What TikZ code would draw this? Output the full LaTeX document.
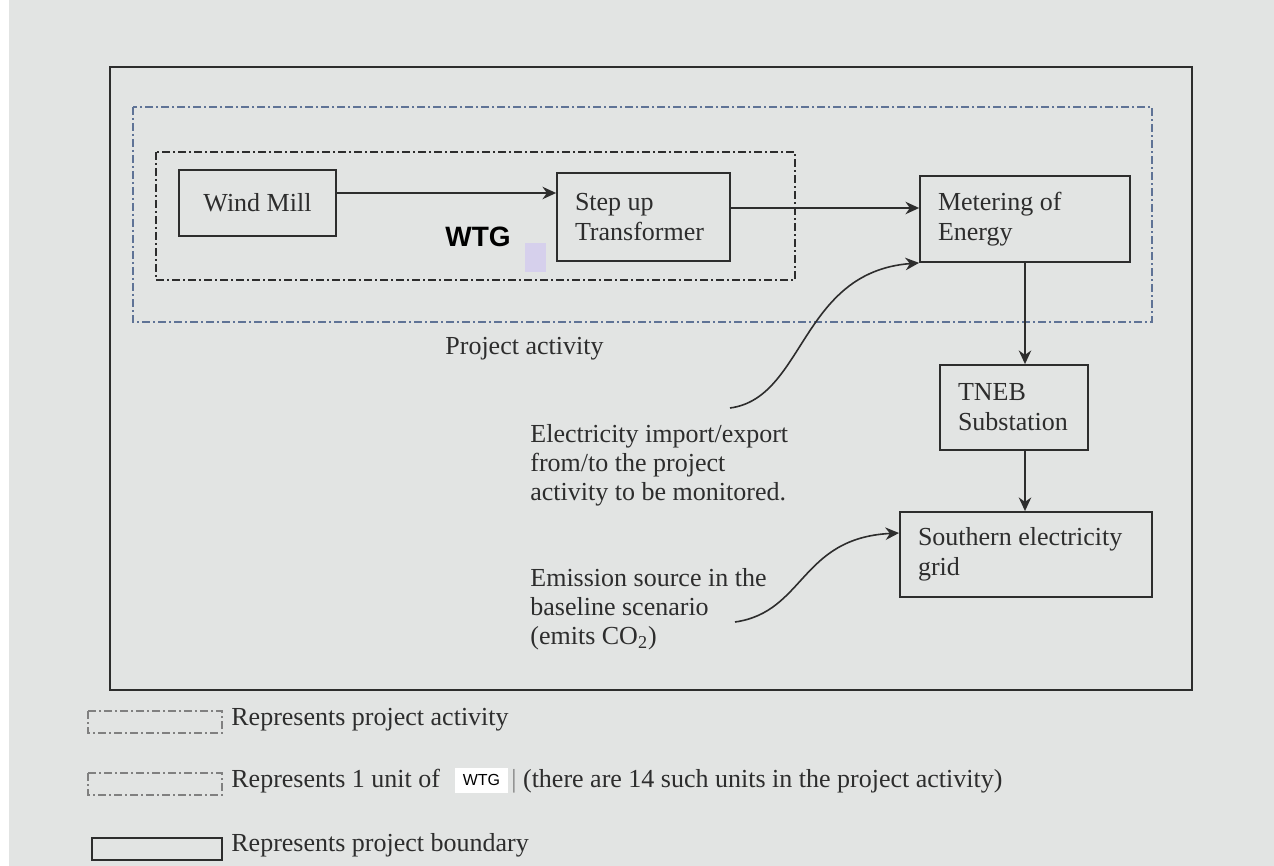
\documentclass[tikz,border=0pt]{standalone}
\usepackage{fontspec}
\setmainfont{Liberation Serif}
\newfontfamily\wtgfont{Liberation Sans}
\usepackage{xcolor}
\definecolor{paper}{RGB}{226,228,227}
\definecolor{ink}{RGB}{45,45,45}
\definecolor{actblue}{RGB}{95,115,150}
\definecolor{patch}{RGB}{214,208,236}
\usetikzlibrary{arrows.meta,positioning,calc}
\tikzset{
  unit/.style={draw=ink,line width=0.9pt,font=\fontsize{13}{15}\selectfont,%
    align=flush left,inner ysep=3pt,text=ink},
  note/.style={font=\fontsize{13}{14.5}\selectfont,align=left,text=ink,inner sep=0pt},
  flow/.style={-{Stealth[length=2.4mm,width=2.2mm]},line width=0.8pt,draw=ink},
  dashdot/.style={line width=0.7pt,dash pattern=on 4pt off 1.5pt on 1pt off 1.5pt},
}

\begin{document}
\begin{tikzpicture}[x=0.5pt,y=-0.5pt]
\useasboundingbox (0,0) rectangle (1274,866);
\fill[paper] (0,0) rectangle (1274,866);
\fill[white] (0,0) rectangle (9,866);
% boundary and activity frames
\draw[ink,line width=1pt] (110,67) rectangle (1192,690);
\draw[dashdot,actblue] (133,107) rectangle (1152,322);
\draw[dashdot,ink] (156,152) rectangle (795,280);
\node[font=\wtgfont\bfseries\fontsize{14}{16}\selectfont] (wtg) at (478,237) {WTG};
\fill[patch] (525,243) rectangle (546,272);
\node[note,anchor=west] (act) at (445,349) {Project activity};

\node[unit,align=center,minimum width=78.5pt,minimum height=33pt] (wind) at (257.5,203) {Wind Mill};
\node[unit,text width=68.5pt,inner xsep=9pt,minimum height=44pt] (trafo) at (643.5,217) {Step up\\Transformer};
\node[unit,text width=87pt,inner xsep=9pt,minimum height=43pt] (meter) at (1025,219) {Metering of\\Energy};
\node[unit,text width=56pt,inner xsep=9pt,minimum height=42.5pt] (tneb) at (1014,407.5) {TNEB\\Substation};
\node[unit,text width=108pt,inner xsep=9pt,minimum height=42.5pt] (grid) at (1026,554.5) {Southern electricity\\grid};

\node[note,anchor=north west] (imex) at (530,424)
  {Electricity import/export\\from/to the project\\activity to be monitored.};
\node[note,anchor=north west] (emis) at (530,568)
  {Emission source in the\\baseline scenario\\(emits CO\textsubscript{2})};
\coordinate (imexend) at (730,408);
\coordinate (emisend) at (735,622);

\draw[flow] ([yshift=5pt]wind.east) -- ([yshift=5pt]wind.east -| trafo.west);
\draw[flow] ([yshift=4.5pt]trafo.east) -- ([yshift=4.5pt]trafo.east -| meter.west);
\draw[flow] (meter.south) -- (meter.south |- tneb.north);
\draw[flow] (tneb.south -| meter.south) -- (grid.north -| meter.south);
\draw[flow] (imexend) .. controls (805,398) and (800,272) .. (meter.south west);
\draw[flow] (emisend) .. controls (805,612) and (800,538) .. (grid.west |- 0,533);

% legend
\draw[dashdot,gray] (88,711) rectangle (222,733);
\draw[dashdot,gray] (88,773) rectangle (222,795);
\draw[ink,line width=0.9pt] (92,838) rectangle (222,860);
\node[note,anchor=west] (leg1) at (231,720) {Represents project activity};
\node[note,anchor=west] (leg2) at (231,781) {Represents 1 unit of};
\node[fill=white,font=\wtgfont\fontsize{8}{9}\selectfont,minimum width=26.5pt,minimum height=12.5pt,inner sep=0pt] (legwtg) at (481.5,780) {WTG};
\node[note,anchor=west] (leg2b) at (511,781) {\textcolor{gray}{|} (there are 14 such units in the project activity)};
\node[note,anchor=west] (leg3) at (231,845) {Represents project boundary};
\end{tikzpicture}
\end{document}
